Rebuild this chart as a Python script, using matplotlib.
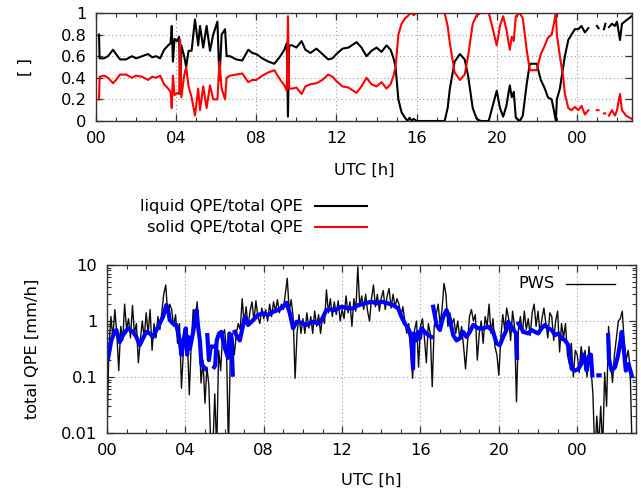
import numpy as np
import matplotlib
matplotlib.use("Agg")
import matplotlib.pyplot as plt
from matplotlib.lines import Line2D
from matplotlib.ticker import FixedLocator, MultipleLocator, LogLocator, NullFormatter

nan = np.nan

# ---------------- top panel: phase fractions ----------------
frac_hours = [0.15, 0.18, 0.4, 0.6, 0.85, 1.0, 1.2, 1.5, 1.8, 2.0, 2.3, 2.6, 2.8, 3.0, 3.2, 3.4, 3.6,
              3.72, 3.78, 3.84, 3.92, 4.05, 4.15, 4.2, 4.26, 4.4, 4.5, 4.62, 4.77, 4.94, 5.1, 5.19, 5.35,
              5.52, 5.69, 5.85, 6.06, 6.16, 6.27, 6.44, 6.52, 6.69, 7.0, 7.3, 7.6, 7.8, 8.0, 8.3, 8.6,
              8.9, 9.2, 9.4, 9.52, 9.58, 9.64, 9.8, 10.0, 10.26, 10.45, 10.7, 11.0, 11.3, 11.59, 11.8,
              12.0, 12.3, 12.6, 13.0, 13.25, 13.5, 13.75, 14.0, 14.25, 14.5, 14.7, 14.85, 14.95, 15.09,
              15.25, 15.42, 15.55, 15.65, 15.75, 15.85, 16.0, 16.7, 17.4, 17.55, 17.66, 17.9, 18.16, 18.4,
              18.57, 18.66, 18.8, 19.0, 19.2, 19.6, 19.74, 20.0, 20.16, 20.32, 20.48, 20.65, 20.75,
              20.85, 20.95, 21.15, 21.3, 21.5, 21.65, 22.0, 22.1, 22.2, 22.4, 22.55, 22.74, 22.85,
              22.95, 23.0, 23.15, 23.32, 23.4, 23.57, 23.73, 23.9, 24.07, 24.23, 24.4, 24.57, 24.65,
              25.0, 25.08, 25.12, 25.35, 25.42, 25.47, 25.6, 25.75, 25.9, 26.0, 26.15, 26.25, 26.45,
              26.73]
liquid_frac = [0.80, 0.58, 0.58, 0.60, 0.66, 0.62, 0.57, 0.57, 0.60, 0.58, 0.60, 0.62, 0.59, 0.60, 0.58,
               0.66, 0.70, 0.72, 0.88, 0.55, 0.76, 0.74, 0.78, 0.25, 0.70, 0.60, 0.50, 0.65, 0.65, 0.94,
               0.70, 0.88, 0.68, 0.88, 0.65, 0.80, 0.92, 0.38, 0.80, 0.85, 0.60, 0.60, 0.57, 0.56, 0.66,
               0.63, 0.62, 0.58, 0.55, 0.53, 0.60, 0.66, 0.72, 0.04, 0.70, 0.70, 0.68, 0.74, 0.66, 0.63,
               0.67, 0.62, 0.57, 0.58, 0.62, 0.67, 0.68, 0.73, 0.68, 0.60, 0.65, 0.68, 0.64, 0.70, 0.66,
               0.58, 0.50, 0.20, 0.08, 0.03, 0.00, 0.03, 0.00, 0.02, 0.00, 0.00, 0.00, 0.12, 0.30, 0.55, 0.62,
               0.57, 0.42, 0.30, 0.12, 0.02, 0.00, 0.00, 0.10, 0.28, 0.12, 0.04, 0.14, 0.33, 0.22, 0.27,
               0.03, 0.00, 0.05, 0.35, 0.53, 0.53, 0.45, 0.38, 0.30, 0.22, 0.20, 0.10, 0.00, 0.20, 0.30,
               0.50, 0.60, 0.75, 0.80, 0.85, 0.85, 0.88, 0.82, 0.86, nan, 0.88, 0.86, nan, 0.85, 0.90,
               nan, 0.87, 0.90, 0.88, 0.92, 0.75, 0.90, 0.93, 0.97]
solid_frac = [0.20, 0.41, 0.42, 0.40, 0.35, 0.38, 0.43, 0.43, 0.40, 0.42, 0.41, 0.38, 0.41, 0.40, 0.42,
              0.34, 0.30, 0.27, 0.12, 0.42, 0.24, 0.26, 0.25, 0.75, 0.22, 0.42, 0.50, 0.32, 0.22, 0.05,
              0.30, 0.10, 0.32, 0.12, 0.33, 0.20, 0.20, 0.55, 0.30, 0.20, 0.40, 0.42, 0.43, 0.44, 0.36,
              0.38, 0.38, 0.42, 0.45, 0.47, 0.38, 0.33, 0.28, 0.97, 0.30, 0.30, 0.31, 0.25, 0.32, 0.34,
              0.35, 0.38, 0.43, 0.41, 0.37, 0.32, 0.31, 0.26, 0.32, 0.40, 0.34, 0.32, 0.36, 0.30, 0.34,
              0.42, 0.50, 0.80, 0.90, 0.95, 0.97, 0.99, 1.00, 0.98, 1.00, nan, 1.00, 0.88, 0.72, 0.45, 0.38,
              0.43, 0.60, 0.72, 0.90, 0.98, 1.00, 1.00, 0.90, 0.70, 0.88, 0.97, 0.85, 0.66, 0.78, 0.74,
              0.97, 1.00, 0.95, 0.65, 0.47, 0.47, 0.55, 0.62, 0.70, 0.77, 0.80, 0.90, 1.00, 0.80, 0.60,
              0.40, 0.25, 0.12, 0.10, 0.13, 0.10, 0.14, 0.06, 0.10, nan, 0.10, 0.10, nan, 0.07, 0.07,
              nan, 0.05, 0.10, 0.05, 0.10, 0.25, 0.10, 0.05, 0.02]

# ---------------- bottom panel: total QPE ----------------
pws_hours = np.round(np.arange(0, 26.85, 0.1), 2)
pws_qpe = [
    0.01, 0.35, 1.2, 0.5, 1.6, 0.6, 0.13, 0.8, 0.45, 2.0,
    0.7, 1.1, 0.5, 1.9, 0.6, 0.9, 0.18, 0.45, 1.0, 0.5,
    1.4, 0.6, 1.6, 0.3, 0.9, 0.5, 1.2, 0.7, 1.5, 3.1,
    4.4, 1.3, 2.0, 1.6, 0.8, 1.3, 0.4, 0.9, 0.063, 0.3,
    0.7, 0.5, 0.048, 0.4, 1.6, 0.8, 2.2, 0.6, 0.078, 0.2,
    0.034, 0.15, 0.07, 0.005, 0.005, 0.05, 0.005, 0.3, 0.13, 0.55,
    0.7, 0.3, 0.005, 0.35, 0.6, 0.25, 0.6, 0.9, 0.7, 2.5,
    0.9, 1.8, 0.8, 1.5, 2.2, 1.0, 2.3, 1.2, 0.9, 1.7,
    1.1, 1.6, 1.0, 2.0, 1.2, 2.2, 1.5, 2.4, 1.4, 2.0,
    1.6, 3.0, 5.8, 1.5, 2.4, 1.2, 0.095, 0.6, 1.3, 0.6,
    1.1, 0.6, 1.4, 0.75, 1.2, 0.6, 1.5, 0.8, 1.3, 0.6,
    1.2, 0.9, 3.6, 1.4, 2.5, 1.2, 2.2, 1.3, 2.3, 1.0,
    1.6, 1.1, 2.8, 1.4, 2.2, 0.8, 2.5, 1.5, 9.3, 1.8,
    2.8, 1.6, 3.0, 1.5, 1.0, 2.5, 4.4, 1.8, 3.0, 1.5,
    2.6, 3.5, 1.6, 2.8, 3.8, 1.7, 3.0, 1.8, 2.5, 2.0,
    1.2, 1.8, 1.0, 0.6, 0.9, 0.3, 0.095, 0.7, 1.0, 0.15,
    0.8, 1.1, 0.5, 0.18, 0.9, 0.6, 0.067, 0.8, 1.3, 2.0,
    0.9, 1.6, 4.7, 3.0, 0.8, 1.4, 0.9, 1.1, 0.6, 1.0,
    0.5, 0.8, 0.35, 0.14, 0.4, 1.2, 1.6, 1.0, 1.3, 0.2,
    0.6, 1.0, 0.4, 1.2, 0.8, 2.0, 0.6, 1.1, 0.35, 0.25,
    0.108, 0.5, 1.3, 0.7, 1.7, 1.1, 0.45, 1.5, 0.8, 0.036,
    0.7, 1.2, 0.6, 1.5, 0.7, 1.1, 0.55, 1.4, 2.0, 0.8,
    1.5, 0.6, 1.1, 1.7, 0.9, 0.5, 1.4, 1.2, 0.45, 1.0,
    1.5, 0.28, 0.9, 0.5, 0.9, 0.25, 0.17, 0.4, 0.1, 0.3,
    0.25, 0.12, 0.35, 0.2, 0.3, 0.1, 0.35, 0.15, 0.05, 0.004,
    0.02, 0.006, 0.03, 0.005, 0.12, 0.03, 0.8, 0.2, 0.08, 0.25,
    0.5, 1.0, 1.1, 1.5, 0.4, 0.2, 0.3, 0.15, 0.005,
]

radar_hours = [0.05, 0.22, 0.39, 0.48, 0.65, 0.82, 1.07, 1.33, 1.5, 1.67, 1.84, 2.0, 2.18, 2.35, 2.52,
               2.69, 2.86, 3.03, 3.12, 3.2, 3.37, 3.54, 3.71, 3.8, 3.88, 4.02, 4.09, 4.14, 4.23, 4.4,
               4.57, 4.65, 4.74, 4.82, 4.95, 5.02, 5.07, 5.12, 5.2, 5.3, 5.38, 5.42, 5.47, 5.52, 5.6,
               5.72, 5.84, 5.95, 6.05, 6.18, 6.25, 6.35, 6.42, 6.47, 6.52, 6.69, 6.78, 6.95, 7.03, 7.2,
               7.46, 7.71, 7.97, 8.22, 8.48, 8.73, 8.99, 9.16, 9.33, 9.5, 9.67, 9.93, 10.18, 10.52,
               10.78, 10.95, 11.2, 11.37, 11.63, 11.97, 12.31, 12.57, 12.82, 13.16, 13.5, 13.75, 14.0,
               14.35, 14.6, 14.86, 15.03, 15.2, 15.37, 15.45, 15.54, 15.62, 15.66, 15.8, 15.88, 15.97,
               16.05, 16.22, 16.39, 16.56, 16.6, 16.65, 16.82, 16.99, 17.16, 17.33, 17.5, 17.67, 17.84,
               18.01, 18.18, 18.35, 18.52, 18.69, 18.95, 19.2, 19.46, 19.71, 19.88, 20.05, 20.22,
               20.39, 20.48, 20.65, 20.82, 20.9, 20.93, 20.96, 21.0, 21.25, 21.5, 21.67, 21.84, 22.01,
               22.18, 22.35, 22.52, 22.7, 22.87, 23.04, 23.21, 23.38, 23.55, 23.63, 23.72, 23.89,
               24.06, 24.2, 24.31, 24.4, 24.48, 24.57, 24.7, 24.77, 24.85, 25.08, 25.14, 25.2, 25.58,
               25.62, 25.76, 25.93, 26.07, 26.19, 26.27, 26.36, 26.48, 26.62, 26.78]
radar_qpe = [0.21, 0.45, 0.64, 0.69, 0.42, 0.56, 0.74, 0.64, 0.52, 0.37, 0.49, 0.64, 0.60, 0.52, 0.69,
             0.90, 1.19, 1.93, 1.57, 1.04, 0.90, 0.85, 0.45, 0.25, 0.40, 0.74, 0.25, 0.52, 0.32, 0.64,
             1.57, 0.79, 0.45, 0.17, 0.15, 0.14, nan, 0.56, 0.20, 0.35, 0.35, nan, 0.15, 0.16, 0.45,
             0.60, 0.64, 0.40, 0.30, 0.22, 0.60, 0.50, 0.11, nan, 0.64, 0.49, 0.45, 0.85, 1.19, 0.85,
             1.04, 1.28, 1.37, 1.28, 1.46, 1.57, 1.80, 2.12, 1.37, 0.74, 0.97, 0.93, 0.85, 0.97,
             0.90, 1.04, 1.57, 1.61, 1.57, 1.80, 1.68, 1.68, 1.92, 2.06, 2.21, 2.06, 2.21,
             2.06, 1.92, 1.68, 1.19, 0.90, 0.74, 0.64, 0.45, 0.14, 0.60, 0.45, 0.64, 0.49,
             0.74, 0.64, 0.56, 0.52, nan, 1.80, 0.85, 0.69, 1.19, 1.57, 1.04, 0.56, 0.45,
             0.49, 0.64, 0.52, 0.64, 0.85, 0.74, 0.74, 0.79, 0.64, 0.40, 0.37, 0.52,
             0.69, 0.97, 0.79, 0.64, 0.60, 0.22, nan, 0.90, 0.64, 0.60, 0.69, 0.64, 0.60,
             0.74, 0.85, 0.74, 0.69, 0.56, 0.60, 0.49, 0.45, 0.37, 0.23, 0.14, 0.13,
             0.14, 0.17, 0.25, 0.20, 0.13, 0.23, 0.25, 0.107, nan, 0.107, 0.107, nan, 0.56,
             0.20, 0.13, 0.15, 0.23, 0.40, 0.64, 0.35, 0.13, 0.17, 0.107]

tick_hours = [0, 4, 8, 12, 16, 20, 24]
tick_labels = ["00", "04", "08", "12", "16", "20", "00"]
frac_ticks = [0, 0.2, 0.4, 0.6, 0.8, 1]
frac_ticklabels = ["0", "0.2", "0.4", "0.6", "0.8", "1"]
qpe_ticks = [0.01, 0.1, 1, 10]
qpe_ticklabels = ["0.01", "0.1", "1", "10"]

# ---------------- drawing ----------------
plt.rcParams['font.family'] = ['DejaVu Sans']
FS = 11.7
W, H = 641, 495
fig = plt.figure(figsize=(W / 100, H / 100), dpi=100)

def px_axes(l, t, r, b):
    return fig.add_axes([l / W, 1 - b / H, (r - l) / W, (b - t) / H])

grid_kw = dict(color='#9a9a9a', linestyle=(0, (1, 2.5)), linewidth=0.8)

def style(ax):
    for s in ax.spines.values():
        s.set_color('#333333')
        s.set_linewidth(1.0)
        s.set_zorder(5)
    ax.tick_params(which='both', direction='in', top=True, right=True,
                   labelsize=FS, color='#333333', pad=7)
    ax.tick_params(which='major', length=5, width=0.9)
    ax.tick_params(which='minor', length=3, width=0.8)
    ax.grid(True, which='major', **grid_kw)
    ax.set_axisbelow(True)

ax1 = px_axes(96, 13, 632, 121)
ax1.plot(frac_hours, liquid_frac, color='black', lw=1.5, zorder=3)
ax1.plot(frac_hours, solid_frac, color='#ff0000', lw=1.5, zorder=3)
ax1.set_xlim(0, 26.75)
ax1.set_ylim(0, 1)
ax1.set_xticks(tick_hours)
ax1.set_xticklabels(tick_labels)
ax1.xaxis.set_minor_locator(MultipleLocator(1))
ax1.set_yticks(frac_ticks)
ax1.set_yticklabels(frac_ticklabels)
style(ax1)
ax1.set_xlabel("UTC [h]", fontsize=FS, labelpad=12)
ax1.set_ylabel("[ ]", fontsize=FS, labelpad=20)

# legend of top panel (gnuplot style: right-aligned text, sample line after)
for yy, lab, col in [(206, "liquid QPE/total QPE", 'black'), (227, "solid QPE/total QPE", '#ff0000')]:
    fig.text(303 / W, 1 - yy / H, lab, ha='right', va='center', fontsize=FS)
    fig.add_artist(Line2D([315 / W, 367 / W], [1 - yy / H, 1 - yy / H], color=col, lw=1.5,
                          transform=fig.transFigure))

ax2 = px_axes(107, 265, 636, 433)
ax2.plot(pws_hours, pws_qpe, color='black', lw=1.0, alpha=0.95, zorder=3)
ax2.plot(radar_hours, radar_qpe, color='#0000ff', lw=3.0, zorder=4)
ax2.set_yscale('log')
ax2.set_xlim(0, 27.0)
ax2.set_ylim(0.01, 10)
ax2.set_xticks(tick_hours)
ax2.set_xticklabels(tick_labels)
ax2.xaxis.set_minor_locator(MultipleLocator(1))
ax2.yaxis.set_major_locator(FixedLocator(qpe_ticks))
ax2.set_yticklabels(qpe_ticklabels)
ax2.yaxis.set_minor_locator(LogLocator(base=10, subs=np.arange(2, 10), numticks=20))
ax2.yaxis.set_minor_formatter(NullFormatter())
style(ax2)
ax2.set_xlabel("UTC [h]", fontsize=FS, labelpad=11)
ax2.set_ylabel("total QPE [mm/h]", fontsize=FS, labelpad=15)

fig.text(555 / W, 1 - 284 / H, "PWS", ha='right', va='center', fontsize=FS)
fig.add_artist(Line2D([566 / W, 615 / W], [1 - 284 / H, 1 - 284 / H], color='black', lw=1.0,
                      transform=fig.transFigure))

fig.savefig("out.png", dpi=100)
